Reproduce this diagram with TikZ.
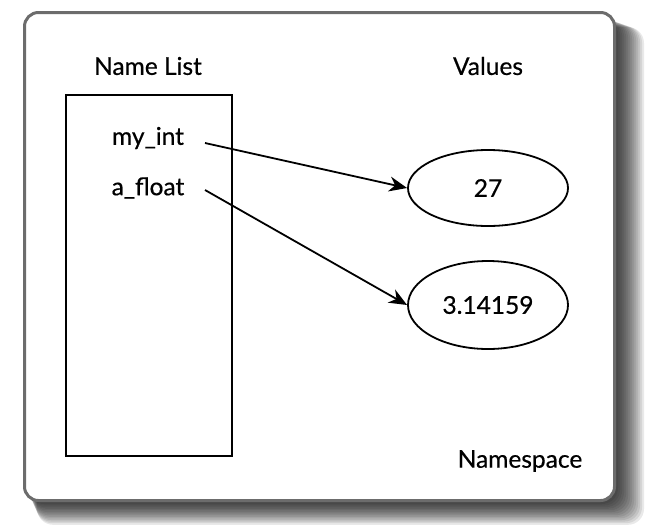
\documentclass[tikz,border=0pt]{standalone}
\usepackage{fontspec}
\setmainfont{Lato}[FakeBold=0.5]
\usetikzlibrary{shapes.geometric,arrows.meta}
\begin{document}
\begin{tikzpicture}[x=1pt,y=-1pt,
  lbl/.style={font=\fontsize{24.5}{28}\selectfont, inner sep=0pt},
  val/.style={ellipse, draw=black, line width=1.8pt, fill=white, font=\fontsize{24.5}{28}\selectfont},
  link/.style={line width=1.8pt, -{Stealth[length=18pt,width=15pt]}}]
\useasboundingbox (0,0) rectangle (650,528);
% shadow
\foreach \i in {0,...,13}{
  \fill[black, opacity=0.085, rounded corners=16pt]
    (28+\i*0.7,18+\i*0.7) rectangle (618+\i*2.0,504+\i*1.6);
}
\node[draw=gray!85!black, line width=3pt, fill=white, rounded corners=14pt,
  minimum width=590pt, minimum height=488pt, anchor=north west, inner sep=0pt]
  (ns) at (23,11) {};
\node[lbl] (nl) at (148,66) {Name List};
\node[lbl] (vl) at (488,66) {Values};
\node[draw=black, line width=1.8pt, anchor=north west, minimum width=166pt,
  minimum height=361pt, inner sep=0pt] (box) at (65,94) {};
\node[lbl] (mi) at (148,138) {my\_int};
\node[lbl] (af) at (148,188) {a\_float};
\node[val, minimum width=160pt, minimum height=76pt] (v1) at (488,188) {27};
\node[val, minimum width=160pt, minimum height=88pt] (v2) at (488,305) {3.14159};
\node[lbl] (nsl) at (520,461) {Namespace};
\coordinate (s1) at (205,143);
\coordinate (s2) at (205,190);
\draw[link] (s1) -- (v1.west);
\draw[link] (s2) -- (v2.west);
\end{tikzpicture}
\end{document}
